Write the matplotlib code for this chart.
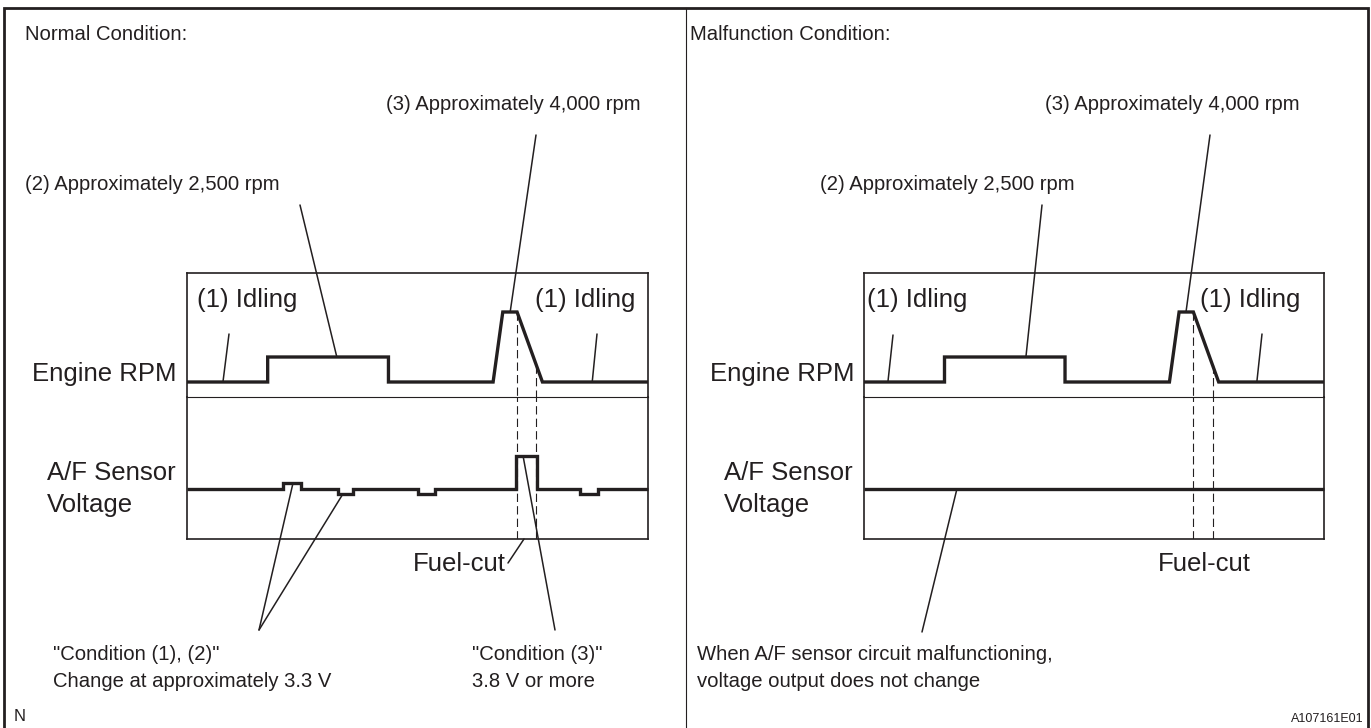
import numpy as np
import matplotlib
matplotlib.use("Agg")
import matplotlib.pyplot as plt

W, H = 1371, 728
INK = "#231f20"
NARROW = ["Liberation Sans Narrow", "Liberation Sans"]
REGULAR = ["Liberation Sans"]
NS = 14.6   # size for the narrow-looking captions
RS = 18.5   # size for labels around the plot boxes

# sketch time axis, in % of the plot box width
rpm_t = [0, 17.5, 17.5, 43.7, 43.7, 66.4, 68.5, 71.6, 77.1, 100]
# idle = 0, approx. 2,500 rpm = 1, approx. 4,000 rpm = 2.8 (relative heights)
rpm_level = [0, 0, 1, 1, 0, 0, 2.8, 2.8, 0, 0]

# A/F sensor voltage, normal: small swings around 3.3 V, jump on fuel-cut
af_t = [0, 20.9, 20.9, 24.7, 24.7, 32.7, 32.7, 36.1, 36.1, 50.0, 50.0, 53.9,
        53.9, 71.4, 71.4, 75.9, 75.9, 85.2, 85.2, 89.2, 89.2, 100]
af_level = [0, 0, 0.2, 0.2, 0, 0, -0.17, -0.17, 0, 0, -0.17, -0.17,
            0, 0, 1.1, 1.1, 0, 0, -0.17, -0.17, 0, 0]
# malfunction: output stays flat
af_flat_t = [0, 100]
af_flat_level = [0, 0]

fuel_cut_t = [71.6, 75.8]


def fig_rect(x0, y0, x1, y1):
    return [x0 / W, 1 - y1 / H, (x1 - x0) / W, (y1 - y0) / H]


plt.rcParams["lines.scale_dashes"] = False

fig = plt.figure(figsize=(W / 100, H / 100), dpi=100)
ov = fig.add_axes([0, 0, 1, 1])
ov.set_xlim(0, W)
ov.set_ylim(H, 0)
ov.axis("off")

# outer frame and divider
ov.plot([4, 4, 1368, 1368], [728, 8, 8, 728], color=INK, lw=2.0, solid_joinstyle="miter")
ov.plot([686, 686], [8, 728], color=INK, lw=0.8)


def leader(ax, xy, end, coords="data"):
    ax.annotate("", xy=xy, xycoords=coords, xytext=end, textcoords=ov.transData,
                arrowprops=dict(arrowstyle="-", lw=1.1, color=INK, shrinkA=0, shrinkB=0),
                annotation_clip=False)


def draw_panel(x0, x1, a_t, a_lvl):
    ax_r = fig.add_axes(fig_rect(x0, 273, x1, 397))
    ax_a = fig.add_axes(fig_rect(x0, 397, x1, 539))
    ax_r.set_ylim(-0.6, 4.36)
    ax_a.set_ylim(-1.667, 3.067)
    for ax in (ax_r, ax_a):
        ax.set_xlim(0, 100)
        ax.set_xticks([])
        ax.set_yticks([])
        ax.patch.set_alpha(0)
        for s in ax.spines.values():
            s.set_linewidth(1.2)
            s.set_color(INK)
    ax_r.spines["bottom"].set_visible(False)
    ax_a.spines["top"].set_linewidth(0.8)

    ax_r.plot(rpm_t, rpm_level, color=INK, lw=2.4, solid_joinstyle="miter",
              solid_capstyle="butt", clip_on=False)
    ax_a.plot(a_t, a_lvl, color=INK, lw=2.4, solid_joinstyle="miter",
              solid_capstyle="butt", clip_on=False)

    ymin = ax_r.get_ylim()[0]
    for t in fuel_cut_t:
        top = np.interp(t, rpm_t[5:], rpm_level[5:])
        ax_r.plot([t, t], [top, ymin], color=INK, lw=0.8, dashes=(6, 3))
        ax_a.plot([t, t], list(ax_a.get_ylim()), color=INK, lw=0.8, dashes=(6, 3))
    return ax_r, ax_a


txt = dict(color=INK, va="baseline")

# ---- Normal condition ----
ax_r, ax_a = draw_panel(187, 648, af_t, af_level)
ov.text(25, 40, "Normal Condition:", fontsize=NS, family=NARROW, **txt)
ov.text(386, 110, "(3) Approximately 4,000 rpm", fontsize=NS, family=NARROW, **txt)
ov.text(25, 190, "(2) Approximately 2,500 rpm", fontsize=NS, family=NARROW, **txt)
ov.text(197, 307, "(1) Idling", fontsize=RS, family=REGULAR, **txt)
ov.text(535, 307, "(1) Idling", fontsize=RS, family=REGULAR, **txt)
ov.text(177, 381, "Engine RPM", fontsize=RS, family=REGULAR, ha="right", **txt)
ov.text(47, 480, "A/F Sensor", fontsize=RS, family=REGULAR, **txt)
ov.text(47, 512, "Voltage", fontsize=RS, family=REGULAR, **txt)
ov.text(413, 571, "Fuel-cut", fontsize=RS, family=REGULAR, **txt)
ov.text(53, 660, "\"Condition (1), (2)\"", fontsize=NS, family=NARROW, **txt)
ov.text(53, 687, "Change at approximately 3.3 V", fontsize=NS, family=NARROW, **txt)
ov.text(472, 660, "\"Condition (3)\"", fontsize=NS, family=NARROW, **txt)
ov.text(472, 687, "3.8 V or more", fontsize=NS, family=NARROW, **txt)
ov.text(14, 721, "N", fontsize=12, family=NARROW, **txt)

leader(ax_r, (70.1, 2.8), (536, 135))
leader(ax_r, (32.5, 1), (300, 205))
leader(ax_r, (7.8, 0), (229, 334))
leader(ax_r, (87.9, 0), (597, 334))
leader(ax_a, (23.0, 0.2), (259, 630))
leader(ax_a, (33.8, -0.17), (259, 630))
leader(ax_a, (72.9, 1.1), (555, 630))
leader(ax_a, (73.1, 0), (508, 563), coords=ax_a.get_xaxis_transform())

# ---- Malfunction condition ----
ax_r2, ax_a2 = draw_panel(864, 1324, af_flat_t, af_flat_level)
ov.text(690, 40, "Malfunction Condition:", fontsize=NS, family=NARROW, **txt)
ov.text(1045, 110, "(3) Approximately 4,000 rpm", fontsize=NS, family=NARROW, **txt)
ov.text(820, 190, "(2) Approximately 2,500 rpm", fontsize=NS, family=NARROW, **txt)
ov.text(867, 307, "(1) Idling", fontsize=RS, family=REGULAR, **txt)
ov.text(1200, 307, "(1) Idling", fontsize=RS, family=REGULAR, **txt)
ov.text(854, 381, "Engine RPM", fontsize=RS, family=REGULAR, ha="right", **txt)
ov.text(724, 480, "A/F Sensor", fontsize=RS, family=REGULAR, **txt)
ov.text(724, 512, "Voltage", fontsize=RS, family=REGULAR, **txt)
ov.text(1158, 571, "Fuel-cut", fontsize=RS, family=REGULAR, **txt)
ov.text(697, 660, "When A/F sensor circuit malfunctioning,", fontsize=NS, family=NARROW, **txt)
ov.text(697, 687, "voltage output does not change", fontsize=NS, family=NARROW, **txt)
ov.text(1364, 722, "A107161E01", fontsize=9, family=NARROW, ha="right", **txt)

leader(ax_r2, (70.0, 2.8), (1210, 135))
leader(ax_r2, (35.2, 1), (1042, 205))
leader(ax_r2, (5.2, 0), (893, 335))
leader(ax_r2, (85.4, 0), (1262, 334))
leader(ax_a2, (20.2, 0), (922, 632))

fig.savefig("out.png", dpi=100)
